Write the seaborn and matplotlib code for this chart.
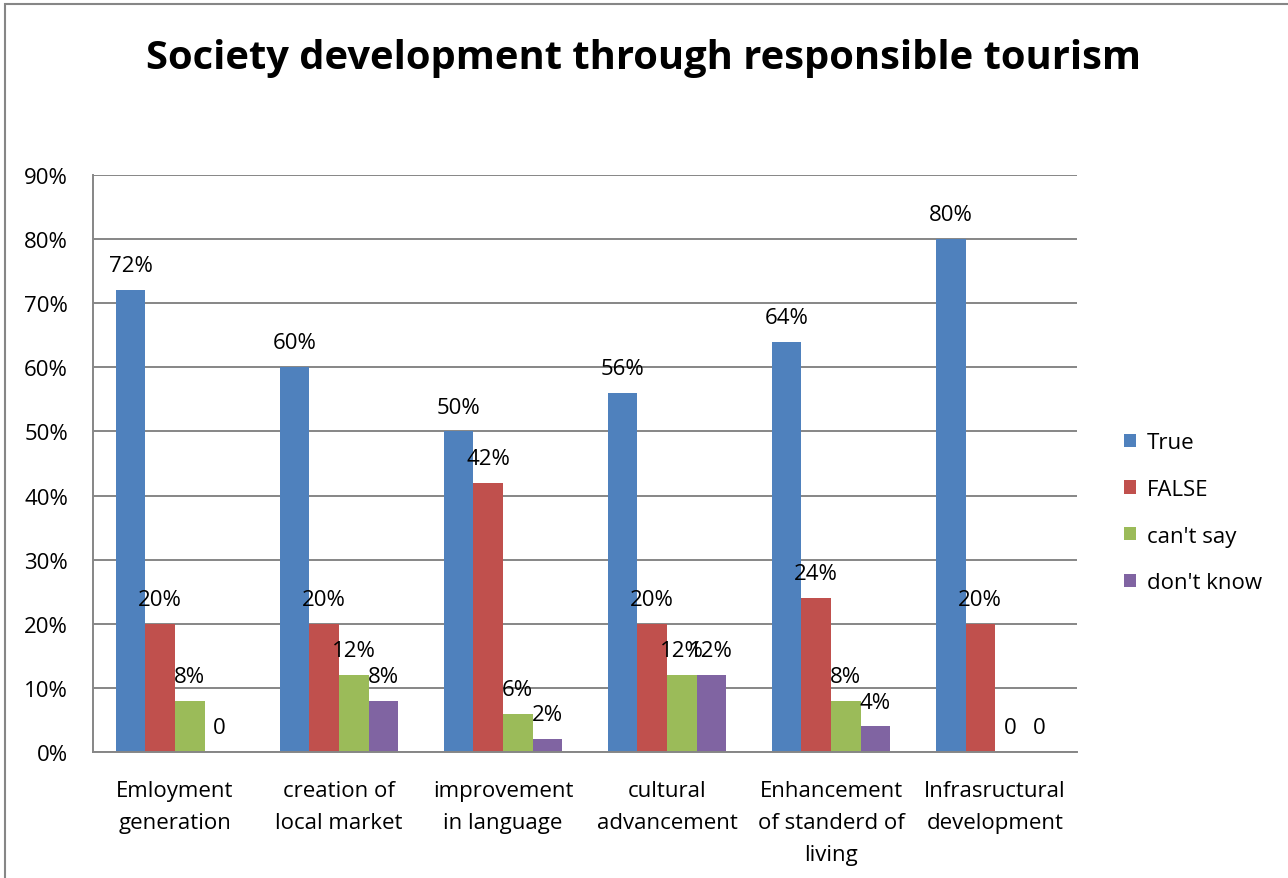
import matplotlib
matplotlib.use("Agg")
import matplotlib.pyplot as plt
from matplotlib.patches import Rectangle, Patch
import seaborn as sns
import pandas as pd

categories = ["Emloyment\ngeneration", "creation of\nlocal market", "improvement\nin language",
              "cultural\nadvancement", "Enhancement\nof standerd of\nliving", "Infrasructural\ndevelopment"]
series = ["True", "FALSE", "can't say", "don't know"]
true_vals = [72, 60, 50, 56, 64, 80]
false_vals = [20, 20, 42, 20, 24, 20]
cant_say_vals = [8, 12, 6, 12, 8, 0]
dont_know_vals = [0, 8, 2, 12, 4, 0]
yticks = [0, 10, 20, 30, 40, 50, 60, 70, 80, 90]
colors = ["#4F81BD", "#C0504D", "#9BBB59", "#8064A2"]

rows = []
for name, vals in zip(series, [true_vals, false_vals, cant_say_vals, dont_know_vals]):
    for cat, v in zip(categories, vals):
        rows.append({"category": cat, "series": name, "value": v})
df = pd.DataFrame(rows)

sns.set_style("white")
plt.rcParams["font.family"] = ["Open Sans", "DejaVu Sans"]
plt.rcParams["text.color"] = "black"
plt.rcParams["xtick.color"] = "black"
plt.rcParams["ytick.color"] = "black"

FS = 16

fig = plt.figure(figsize=(12.88, 8.79), dpi=100)
ax = fig.add_axes([0.0722, 0.1433, 0.764, 0.6565])

sns.barplot(data=df, x="category", y="value", hue="series", order=categories,
            hue_order=series, palette=colors, width=0.72, saturation=1,
            edgecolor="none", linewidth=0, ax=ax, legend=False, errorbar=None)

# value labels above every bar, "0" where the value is zero
for container in ax.containers:
    labels = ["0" if b.get_height() == 0 else f"{b.get_height():g}%" for b in container]
    ax.bar_label(container, labels=labels, padding=10, fontsize=FS, color="black")

ax.set_ylim(0, 90)
ax.set_xlim(-0.5, len(categories) - 0.5)
ax.set_yticks(yticks)
ax.set_yticklabels([f"{t}%" for t in yticks], fontsize=FS)
ax.tick_params(axis="x", labelsize=FS, length=0, pad=20)
ax.tick_params(axis="y", length=0, pad=18)
for lbl in ax.get_xticklabels():
    lbl.set_linespacing(1.68)
ax.set_xlabel("")
ax.set_ylabel("")

ax.yaxis.grid(True, color="#868686", linewidth=1.4)
ax.set_axisbelow(True)
for side in ["top", "right"]:
    ax.spines[side].set_visible(False)
for side in ["left", "bottom"]:
    ax.spines[side].set_color("#868686")
    ax.spines[side].set_linewidth(1.4)

handles = [Patch(facecolor=c, edgecolor="none") for c in colors]
fig.legend(handles, series, loc="center left", bbox_to_anchor=(0.857, 0.4155),
           frameon=False, fontsize=FS, handlelength=0.55, handleheight=0.55,
           handletextpad=0.5, labelspacing=1.15)

fig.text(0.5, 0.933, "Society development through responsible tourism",
         ha="center", va="center", fontsize=28.7, fontweight="bold", color="black")

# outer chart frame
fig.patches.append(Rectangle((5 / 1288, -0.05), 1.2, 1 - 5 / 879 + 0.05,
                             transform=fig.transFigure, fill=False,
                             edgecolor="#868686", linewidth=1.5))

fig.savefig("out.png", dpi=100, facecolor="white")
